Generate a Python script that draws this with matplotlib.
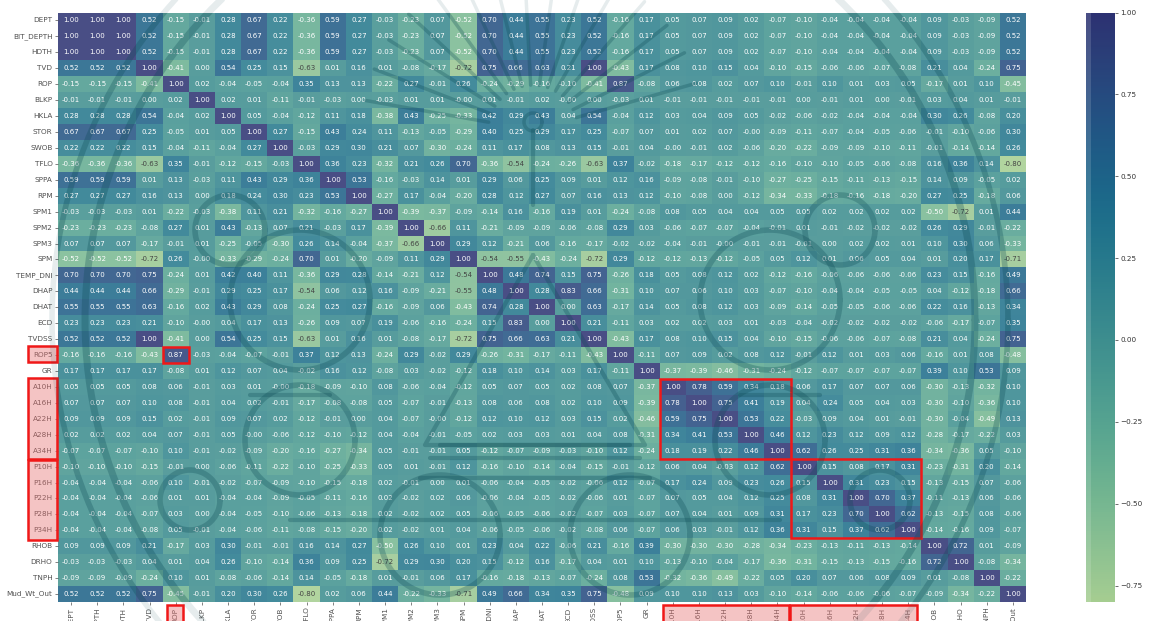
import numpy as np
import matplotlib
matplotlib.use('Agg')
import matplotlib.pyplot as plt
from matplotlib.patches import Rectangle, Circle
import seaborn as sns

labels = ['DEPT', 'BIT_DEPTH', 'HDTH', 'TVD', 'ROP', 'BLKP', 'HKLA', 'STOR', 'SWOB', 'TFLO', 'SPPA', 'RPM',
          'SPM1', 'SPM2', 'SPM3', 'SPM', 'TEMP_DNI', 'DHAP', 'DHAT', 'ECD', 'TVDSS', 'ROP5', 'GR',
          'A10H', 'A16H', 'A22H', 'A28H', 'A34H', 'P10H', 'P16H', 'P22H', 'P28H', 'P34H',
          'RHOB', 'DRHO', 'TNPH', 'Mud_Wt_Out']

# correlation rows (-0.001 prints as -0.00)
dept = [1, 1, 1, .52, -.15, -.01, .28, .67, .22, -.36, .59, .27, -.03, -.23, .07, -.52, .70, .44, .55, .23, .52, -.16, .17, .05, .07, .09, .02, -.07, -.10, -.04, -.04, -.04, -.04, .09, -.03, -.09, .52]
tvd = [.52, .52, .52, 1, -.41, 0, .54, .25, .15, -.63, .01, .16, .01, -.08, -.17, -.72, .75, .66, .63, .21, 1, -.43, .17, .08, .10, .15, .04, -.10, -.15, -.06, -.06, -.07, -.08, .21, .04, -.24, .75]
rop = [-.15, -.15, -.15, -.41, 1, .02, -.04, -.05, -.04, .35, .13, .13, -.22, .27, -.01, .26, -.24, -.29, -.16, -.10, -.41, .87, -.08, .06, .08, .02, .07, .10, -.01, .10, .01, .03, .05, -.17, .01, .10, -.45]
blkp = [-.01, -.01, -.01, 0, .02, 1, .02, .01, -.11, -.01, -.03, 0, -.03, .01, .01, -.001, .01, -.01, .02, -.001, 0, -.03, .01, -.01, -.01, -.01, -.01, -.01, 0, -.01, .01, 0, -.01, .03, .04, .01, -.01]
hkla = [.28, .28, .28, .54, -.04, .02, 1, .05, -.04, -.12, .11, .18, -.38, .43, -.25, -.33, .42, .29, .43, .04, .54, -.04, .12, .03, .04, .09, .05, -.02, -.06, -.02, -.04, -.04, -.04, .30, .26, -.08, .20]
stor = [.67, .67, .67, .25, -.05, .01, .05, 1, .27, -.15, .43, .24, .11, -.13, -.05, -.29, .40, .25, .29, .17, .25, -.07, .07, .01, .02, .07, -.001, -.09, -.11, -.07, -.04, -.05, -.06, -.01, -.10, -.06, .30]
swob = [.22, .22, .22, .15, -.04, -.11, -.04, .27, 1, -.03, .29, .30, .21, .07, -.30, -.24, .11, .17, .08, .13, .15, -.01, .04, -.001, -.01, .02, -.06, -.20, -.22, -.09, -.09, -.10, -.11, -.01, -.14, -.14, .26]
tflo = [-.36, -.36, -.36, -.63, .35, -.01, -.12, -.15, -.03, 1, .36, .23, -.32, .21, .26, .70, -.36, -.54, -.24, -.26, -.63, .37, -.02, -.18, -.17, -.12, -.12, -.16, -.10, -.10, -.05, -.06, -.08, .16, .36, .14, -.80]
sppa = [.59, .59, .59, .01, .13, -.03, .11, .43, .29, .36, 1, .53, -.16, -.03, .14, .01, .29, .06, .25, .09, .01, .12, .16, -.09, -.08, -.01, -.10, -.27, -.25, -.15, -.11, -.13, -.15, .14, .09, -.05, .02]
rpm = [.27, .27, .27, .16, .13, 0, .18, .24, .30, .23, .53, 1, -.27, .17, -.04, -.20, .28, .12, .27, .07, .16, .13, .12, -.10, -.08, 0, -.12, -.34, -.33, -.18, -.16, -.18, -.20, .27, .25, -.18, .06]
spm1 = [-.03, -.03, -.03, .01, -.22, -.03, -.38, .11, .21, -.32, -.16, -.27, 1, -.39, -.37, -.09, -.14, .16, -.16, .19, .01, -.24, -.08, .08, .05, .04, .04, .05, .05, .02, .02, .02, .02, -.50, -.72, .01, .44]
spm2 = [-.23, -.23, -.23, -.08, .27, .01, .43, -.13, .07, .21, -.03, .17, -.39, 1, -.66, .11, -.21, -.09, -.09, -.06, -.08, .29, .03, -.06, -.07, -.07, -.04, -.01, .01, -.01, -.02, -.02, -.02, .26, .29, -.01, -.22]
spm3 = [.07, .07, .07, -.17, -.01, .01, -.25, -.05, -.30, .26, .14, -.04, -.37, -.66, 1, .29, .12, -.21, .06, -.16, -.17, -.02, -.02, -.04, -.01, -.001, -.01, -.01, -.01, 0, .02, .02, .01, .10, .30, .06, -.33]
spm = [-.52, -.52, -.52, -.72, .26, -.001, -.33, -.29, -.24, .70, .01, -.20, -.09, .11, .29, 1, -.54, -.55, -.43, -.24, -.72, .29, -.12, -.12, -.13, -.12, -.05, .05, .12, .01, .06, .05, .04, .01, .20, .17, -.71]
temp_dni = [.70, .70, .70, .75, -.24, .01, .42, .40, .11, -.36, .29, .28, -.14, -.21, .12, -.54, 1, .48, .74, .15, .75, -.26, .18, .05, .08, .12, .02, -.12, -.16, -.06, -.06, -.06, -.06, .23, .15, -.16, .49]
dhap = [.44, .44, .44, .66, -.29, -.01, .29, .25, .17, -.54, .06, .12, .16, -.09, -.21, -.55, .48, 1, .28, .83, .66, -.31, .10, .07, .06, .10, .03, -.07, -.10, -.04, -.04, -.05, -.05, .04, -.12, -.18, .66]
dhat = [.55, .55, .55, .63, -.16, .02, .43, .29, .08, -.24, .25, .27, -.16, -.09, .06, -.43, .74, .28, 1, 0, .63, -.17, .14, .05, .08, .12, .03, -.09, -.14, -.05, -.05, -.06, -.06, .22, .16, -.13, .34]
ecd = [.23, .23, .23, .21, -.10, -.001, .04, .17, .13, -.26, .09, .07, .19, -.06, -.16, -.24, .15, .83, 0, 1, .21, -.11, .03, .02, .02, .03, .01, -.03, -.04, -.02, -.02, -.02, -.02, -.06, -.17, -.07, .35]
rop5 = [-.16, -.16, -.16, -.43, .87, -.03, -.04, -.07, -.01, .37, .12, .13, -.24, .29, -.02, .29, -.26, -.31, -.17, -.11, -.43, 1, -.11, .07, .09, .02, .08, .12, -.01, .12, .01, .03, .06, -.16, .01, .08, -.48]
gr = [.17, .17, .17, .17, -.08, .01, .12, .07, .04, -.02, .16, .12, -.08, .03, -.02, -.12, .18, .10, .14, .03, .17, -.11, 1, -.37, -.39, -.46, -.31, -.24, -.12, -.07, -.07, -.07, -.07, .39, .10, .53, .09]
a10h = [.05, .05, .05, .08, .06, -.01, .03, .01, -.001, -.18, -.09, -.10, .08, -.06, -.04, -.12, .05, .07, .05, .02, .08, .07, -.37, 1, .78, .59, .34, .18, .06, .17, .07, .07, .06, -.30, -.13, -.32, .10]
a16h = [.07, .07, .07, .10, .08, -.01, .04, .02, -.01, -.17, -.08, -.08, .05, -.07, -.01, -.13, .08, .06, .08, .02, .10, .09, -.39, .78, 1, .75, .41, .19, .04, .24, .05, .04, .03, -.30, -.10, -.36, .10]
a22h = [.09, .09, .09, .15, .02, -.01, .09, .07, .02, -.12, -.01, 0, .04, -.07, -.001, -.12, .12, .10, .12, .03, .15, .02, -.46, .59, .75, 1, .53, .22, -.03, .09, .04, .01, -.01, -.30, -.04, -.49, .13]
a28h = [.02, .02, .02, .04, .07, -.01, .05, -.001, -.06, -.12, -.10, -.12, .04, -.04, -.01, -.05, .02, .03, .03, .01, .04, .08, -.31, .34, .41, .53, 1, .46, .12, .23, .12, .09, .12, -.28, -.17, -.22, .03]
a34h = [-.07, -.07, -.07, -.10, .10, -.01, -.02, -.09, -.20, -.16, -.27, -.34, .05, -.01, -.01, .05, -.12, -.07, -.09, -.03, -.10, .12, -.24, .18, .19, .22, .46, 1, .62, .26, .25, .31, .36, -.34, -.36, .05, -.10]
p10h = [-.10, -.10, -.10, -.15, -.01, 0, -.06, -.11, -.22, -.10, -.25, -.33, .05, .01, -.01, .12, -.16, -.10, -.14, -.04, -.15, -.01, -.12, .06, .04, -.03, .12, .62, 1, .15, .08, .17, .31, -.23, -.31, .20, -.14]
p16h = [-.04, -.04, -.04, -.06, .10, -.01, -.02, -.07, -.09, -.10, -.15, -.18, .02, -.01, 0, .01, -.06, -.04, -.05, -.02, -.06, .12, -.07, .17, .24, .09, .23, .26, .15, 1, .31, .23, .15, -.13, -.15, .07, -.06]
p22h = [-.04, -.04, -.04, -.06, .01, .01, -.04, -.04, -.09, -.05, -.11, -.16, .02, -.02, .02, .06, -.06, -.04, -.05, -.02, -.06, .01, -.07, .07, .05, .04, .12, .25, .08, .31, 1, .70, .37, -.11, -.13, .06, -.06]
p28h = [-.04, -.04, -.04, -.07, .03, 0, -.04, -.05, -.10, -.06, -.13, -.18, .02, -.02, .02, .05, -.06, -.05, -.06, -.02, -.07, .03, -.07, .07, .04, .01, .09, .31, .17, .23, .70, 1, .62, -.13, -.15, .08, -.06]
p34h = [-.04, -.04, -.04, -.08, .05, -.01, -.04, -.06, -.11, -.08, -.15, -.20, .02, -.02, .01, .04, -.06, -.05, -.06, -.02, -.08, .06, -.07, .06, .03, -.01, .12, .36, .31, .15, .37, .62, 1, -.14, -.16, .09, -.07]
rhob = [.09, .09, .09, .21, -.17, .03, .30, -.01, -.01, .16, .14, .27, -.50, .26, .10, .01, .23, .04, .22, -.06, .21, -.16, .39, -.30, -.30, -.30, -.28, -.34, -.23, -.13, -.11, -.13, -.14, 1, .72, .01, -.09]
drho = [-.03, -.03, -.03, .04, .01, .04, .26, -.10, -.14, .36, .09, .25, -.72, .29, .30, .20, .15, -.12, .16, -.17, .04, .01, .10, -.13, -.10, -.04, -.17, -.36, -.31, -.15, -.13, -.15, -.16, .72, 1, -.08, -.34]
tnph = [-.09, -.09, -.09, -.24, .10, .01, -.08, -.06, -.14, .14, -.05, -.18, .01, -.01, .06, .17, -.16, -.18, -.13, -.07, -.24, .08, .53, -.32, -.36, -.49, -.22, .05, .20, .07, .06, .08, .09, .01, -.08, 1, -.22]
mud = [.52, .52, .52, .75, -.45, -.01, .20, .30, .26, -.80, .02, .06, .44, -.22, -.33, -.71, .49, .66, .34, .35, .75, -.48, .09, .10, .10, .13, .03, -.10, -.14, -.06, -.06, -.06, -.07, -.09, -.34, -.22, 1]

corr = np.array([dept, dept, dept, tvd, rop, blkp, hkla, stor, swob, tflo, sppa, rpm, spm1, spm2, spm3, spm,
                 temp_dni, dhap, dhat, ecd, tvd, rop5, gr, a10h, a16h, a22h, a28h, a34h,
                 p10h, p16h, p22h, p28h, p34h, rhob, drho, tnph, mud])

W, H = 1149, 621
fig = plt.figure(figsize=(W / 100, H / 100), dpi=100)
ax = fig.add_axes([58 / W, 1 - 602 / H, 968 / W, 589.5 / H])
cax = fig.add_axes([1086 / W, 1 - 602 / H, 29 / W, 589.5 / H])

sns.heatmap(corr, ax=ax, cbar_ax=cax, cmap='crest', annot=True, fmt='.2f', annot_kws={'size': 5},
            xticklabels=labels, yticklabels=labels, vmin=-0.8, vmax=1.0)
ax.tick_params(labelsize=5.2, length=2, width=0.5, colors='#333333', pad=2)
plt.setp(ax.get_xticklabels(), rotation=90)
plt.setp(ax.get_yticklabels(), rotation=0)
cax.set_yticks([-.75, -.5, -.25, 0, .25, .5, .75, 1])
cax.tick_params(labelsize=5.2, length=2, width=0.5, colors='#333333', pad=2)

# overlay in pixel coordinates: watermark seal and the label highlights
over = fig.add_axes([0, 0, 1, 1], zorder=10)
over.set_xlim(0, W)
over.set_ylim(H, 0)
over.axis('off')
over.patch.set_alpha(0)

over.add_patch(Rectangle((0, 0), 1091, H, fc='white', ec='none', alpha=0.14))
ink = '#0c4a55'
page = Rectangle((0, 0), 1091, H, transform=over.transData)
grid = Rectangle((58, 13), 968, 589, transform=over.transData)


def stroke(xs, ys, lw):
    # pale on the white page, stronger over the cells
    for clip, a in [(page, 0.1), (grid, 0.2)]:
        line, = over.plot(xs, ys, color=ink, lw=lw, alpha=a, solid_capstyle='round')
        line.set_clip_path(clip)


def ring(cx, cy, r, lw):
    t = np.linspace(0, 2 * np.pi, 200)
    stroke(cx + r * np.cos(t), cy + r * np.sin(t), lw)


ring(530, 320, 445, 5)
ring(530, 320, 478, 4)
for ang in np.arange(-170, -5, 11):
    t = np.radians(ang)
    stroke([533 + 45 * np.cos(t), 533 + 170 * np.cos(t)], [130 + 45 * np.sin(t), 130 + 170 * np.sin(t)], 2.5)
# central spire and base bands of the seal
stroke([533, 425, 645, 533], [255, 445, 445, 255], 3)
stroke([533, 533], [130, 205], 3)
ring(533, 122, 9, 2.5)
for y, x0, x1 in [(445, 440, 630), (458, 430, 640), (478, 420, 650), (395, 250, 330), (395, 740, 820), (520, 290, 780)]:
    stroke([x0, x1], [y, y], 3)
for cx, cy, r in [(300, 300, 70), (770, 300, 70), (300, 440, 55), (770, 440, 55), (440, 535, 60), (630, 535, 60),
                  (230, 230, 35), (840, 230, 35), (190, 500, 30), (880, 500, 30)]:
    ring(cx, cy, r, 4)

# red boxes on the cells
cell = 968 / 37
row = 589 / 37
for x0, y0, n in [(4, 21, 1), (23, 23, 5), (28, 28, 5)]:
    over.add_patch(Rectangle((58 + x0 * cell, 13 + y0 * row), n * cell, n * row, fill=False, ec='#f01818', lw=1.8))

# pink label highlights
for x0, y0, x1, y1 in [(28, 346, 57, 362), (28, 378, 57, 459), (28, 460, 57, 540),
                       (167, 605, 183, 625), (663, 605, 789, 625), (790, 605, 917, 625)]:
    over.add_patch(Rectangle((x0, y0), x1 - x0, y1 - y0, facecolor=(0.9, 0.45, 0.45, 0.42),
                             edgecolor='#f01818', lw=1.8))

fig.savefig('out.png', dpi=100)
